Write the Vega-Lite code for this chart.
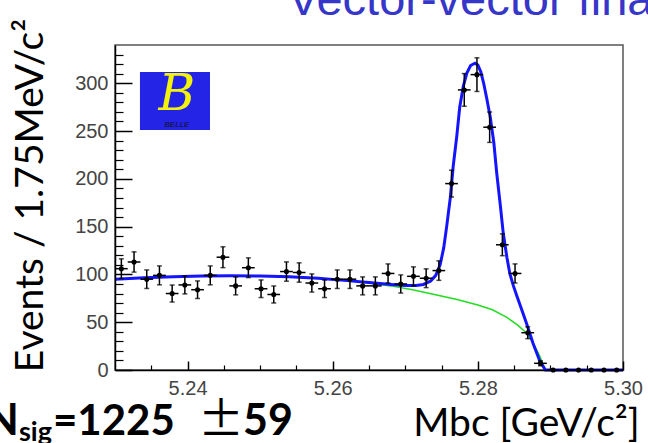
{
  "$schema": "https://vega.github.io/schema/vega-lite/v6.json",
  "autosize": "none",
  "width": 508,
  "height": 325,
  "padding": {"left": 115, "top": 45, "right": 25, "bottom": 73},
  "background": "white",
  "config": {
    "view": {"stroke": "#555555", "strokeWidth": 1.5},
    "font": "Liberation Sans"
  },
  "resolve": {"axis": {"x": "independent", "y": "independent"}},
  "datasets": {
    "bins": [
      {"m": 5.230875, "lo": 5.23, "hi": 5.23175, "n": 106, "e": 10.3},
      {"m": 5.232625, "lo": 5.23175, "hi": 5.2335, "n": 113, "e": 10.6},
      {"m": 5.234375, "lo": 5.2335, "hi": 5.23525, "n": 95, "e": 9.7},
      {"m": 5.236125, "lo": 5.23525, "hi": 5.237, "n": 99, "e": 9.9},
      {"m": 5.237875, "lo": 5.237, "hi": 5.23875, "n": 80, "e": 8.9},
      {"m": 5.239625, "lo": 5.23875, "hi": 5.2405, "n": 89, "e": 9.4},
      {"m": 5.241375, "lo": 5.2405, "hi": 5.24225, "n": 84, "e": 9.2},
      {"m": 5.243125, "lo": 5.24225, "hi": 5.244, "n": 99, "e": 9.9},
      {"m": 5.244875, "lo": 5.244, "hi": 5.24575, "n": 118, "e": 10.9},
      {"m": 5.246625, "lo": 5.24575, "hi": 5.2475, "n": 88, "e": 9.4},
      {"m": 5.248375, "lo": 5.2475, "hi": 5.24925, "n": 107, "e": 10.3},
      {"m": 5.250125, "lo": 5.24925, "hi": 5.251, "n": 85, "e": 9.2},
      {"m": 5.251875, "lo": 5.251, "hi": 5.25275, "n": 79, "e": 8.9},
      {"m": 5.253625, "lo": 5.25275, "hi": 5.2545, "n": 103, "e": 10.1},
      {"m": 5.255375, "lo": 5.2545, "hi": 5.25625, "n": 102, "e": 10.1},
      {"m": 5.257125, "lo": 5.25625, "hi": 5.258, "n": 91, "e": 9.5},
      {"m": 5.258875, "lo": 5.258, "hi": 5.25975, "n": 85, "e": 9.2},
      {"m": 5.260625, "lo": 5.25975, "hi": 5.2615, "n": 95, "e": 9.7},
      {"m": 5.262375, "lo": 5.2615, "hi": 5.26325, "n": 95, "e": 9.7},
      {"m": 5.264125, "lo": 5.26325, "hi": 5.265, "n": 88, "e": 9.4},
      {"m": 5.265875, "lo": 5.265, "hi": 5.26675, "n": 88, "e": 9.4},
      {"m": 5.267625, "lo": 5.26675, "hi": 5.2685, "n": 101, "e": 10.0},
      {"m": 5.269375, "lo": 5.2685, "hi": 5.27025, "n": 90, "e": 9.5},
      {"m": 5.271125, "lo": 5.27025, "hi": 5.272, "n": 98, "e": 9.9},
      {"m": 5.272875, "lo": 5.272, "hi": 5.27375, "n": 96, "e": 9.8},
      {"m": 5.274625, "lo": 5.27375, "hi": 5.2755, "n": 104, "e": 10.2},
      {"m": 5.276375, "lo": 5.2755, "hi": 5.27725, "n": 195, "e": 14.0},
      {"m": 5.278125, "lo": 5.27725, "hi": 5.279, "n": 293, "e": 17.1},
      {"m": 5.279875, "lo": 5.279, "hi": 5.28075, "n": 309, "e": 17.6},
      {"m": 5.281625, "lo": 5.28075, "hi": 5.2825, "n": 254, "e": 15.9},
      {"m": 5.283375, "lo": 5.2825, "hi": 5.28425, "n": 131, "e": 11.4},
      {"m": 5.285125, "lo": 5.28425, "hi": 5.286, "n": 101, "e": 10.0},
      {"m": 5.286875, "lo": 5.286, "hi": 5.28775, "n": 39, "e": 6.2},
      {"m": 5.288625, "lo": 5.28775, "hi": 5.2895, "n": 7, "e": 2.6},
      {"m": 5.290375, "lo": 5.2895, "hi": 5.29125, "n": 0, "e": 0},
      {"m": 5.292125, "lo": 5.29125, "hi": 5.293, "n": 0, "e": 0},
      {"m": 5.293875, "lo": 5.293, "hi": 5.29475, "n": 0, "e": 0},
      {"m": 5.295625, "lo": 5.29475, "hi": 5.2965, "n": 0, "e": 0},
      {"m": 5.297375, "lo": 5.2965, "hi": 5.29825, "n": 0, "e": 0},
      {"m": 5.299125, "lo": 5.29825, "hi": 5.3, "n": 0, "e": 0}
    ],
    "bkg": [
      {"m": 5.230, "n": 95}, {"m": 5.234, "n": 96.5}, {"m": 5.238, "n": 97.5}, {"m": 5.242, "n": 98.3},
      {"m": 5.246, "n": 98.6}, {"m": 5.250, "n": 98.3}, {"m": 5.254, "n": 97.5}, {"m": 5.258, "n": 96},
      {"m": 5.262, "n": 93.5}, {"m": 5.265, "n": 91}, {"m": 5.268, "n": 88}, {"m": 5.271, "n": 84},
      {"m": 5.274, "n": 79}, {"m": 5.277, "n": 74}, {"m": 5.280, "n": 68}, {"m": 5.282, "n": 63},
      {"m": 5.284, "n": 55}, {"m": 5.2855, "n": 47}, {"m": 5.2865, "n": 40}, {"m": 5.2875, "n": 30},
      {"m": 5.2885, "n": 15}, {"m": 5.2893, "n": 0}
    ],
    "total": [
      {"m": 5.230, "n": 95}, {"m": 5.234, "n": 96.5}, {"m": 5.238, "n": 97.5}, {"m": 5.242, "n": 98.3},
      {"m": 5.246, "n": 98.6}, {"m": 5.250, "n": 98.3}, {"m": 5.254, "n": 97.5}, {"m": 5.258, "n": 96},
      {"m": 5.262, "n": 93.5}, {"m": 5.265, "n": 91.5}, {"m": 5.268, "n": 89.5}, {"m": 5.270, "n": 88.5},
      {"m": 5.2715, "n": 88.5}, {"m": 5.2725, "n": 89.5}, {"m": 5.2735, "n": 93}, {"m": 5.2742, "n": 99},
      {"m": 5.2748, "n": 110}, {"m": 5.2753, "n": 128}, {"m": 5.2757, "n": 150}, {"m": 5.2762, "n": 180},
      {"m": 5.2766, "n": 213}, {"m": 5.2771, "n": 245}, {"m": 5.2775, "n": 275}, {"m": 5.2780, "n": 297},
      {"m": 5.2785, "n": 311}, {"m": 5.2790, "n": 318.5}, {"m": 5.2796, "n": 321}, {"m": 5.2800, "n": 319},
      {"m": 5.2804, "n": 312}, {"m": 5.2808, "n": 300}, {"m": 5.2812, "n": 285}, {"m": 5.2817, "n": 265},
      {"m": 5.2822, "n": 238}, {"m": 5.2826, "n": 206}, {"m": 5.2831, "n": 172}, {"m": 5.2835, "n": 143},
      {"m": 5.2840, "n": 118}, {"m": 5.2844, "n": 101}, {"m": 5.2849, "n": 88}, {"m": 5.2854, "n": 77},
      {"m": 5.2860, "n": 64}, {"m": 5.2867, "n": 49}, {"m": 5.2876, "n": 28}, {"m": 5.2885, "n": 10},
      {"m": 5.2893, "n": 0}, {"m": 5.3000, "n": 0}
    ]
  },
  "layer": [
    {
      "data": {"name": "bkg"},
      "mark": {"type": "line", "color": "#22dd22", "strokeWidth": 1.5},
      "encoding": {
        "x": {
          "field": "m", "type": "quantitative",
          "scale": {"domain": [5.23, 5.3], "nice": false, "zero": false},
          "axis": {
            "orient": "bottom",
            "zindex": 2,
            "offset": -9,
            "values": [5.24, 5.26, 5.28, 5.3],
            "format": ".2f",
            "labelOverlap": false,
            "labelFlush": false,
            "labelFont": "Liberation Sans",
            "labelFontSize": 20,
            "labelColor": "#444444",
            "labelPadding": 8,
            "ticks": true,
            "tickSize": 9,
            "tickColor": "black",
            "tickWidth": 1.5,
            "grid": false,
            "domain": false,
            "title": null
          }
        },
        "y": {
          "field": "n", "type": "quantitative",
          "scale": {"domain": [0, 340], "nice": false},
          "axis": {
            "orient": "left",
            "zindex": 2,
            "offset": -17,
            "values": [0, 50, 100, 150, 200, 250, 300],
            "labelOverlap": false,
            "labelFont": "Liberation Sans",
            "labelFontSize": 20,
            "labelColor": "#444444",
            "labelPadding": 7,
            "ticks": true,
            "tickSize": 17,
            "tickColor": "black",
            "tickWidth": 1.5,
            "grid": false,
            "domain": false,
            "title": null
          }
        }
      }
    },
    {
      "data": {"name": "total"},
      "mark": {"type": "line", "color": "#1414ff", "strokeWidth": 3},
      "encoding": {
        "x": {
          "field": "m", "type": "quantitative",
          "axis": {"orient": "bottom", "zindex": 2, "offset": -5, "values": [5.235, 5.245, 5.25, 5.255, 5.265, 5.27, 5.275, 5.285, 5.29, 5.295], "labels": false, "domain": false, "ticks": true, "tickSize": 5, "tickColor": "black", "tickWidth": 1.2, "grid": false, "title": null}
        },
        "y": {
          "field": "n", "type": "quantitative",
          "axis": {"orient": "left", "zindex": 2, "offset": -8, "values": [10, 20, 30, 40, 60, 70, 80, 90, 110, 120, 130, 140, 160, 170, 180, 190, 210, 220, 230, 240, 260, 270, 280, 290, 310, 320, 330], "labels": false, "domain": false, "ticks": true, "tickSize": 8, "tickColor": "black", "tickWidth": 1.2, "grid": false, "title": null}
        }
      }
    },
    {
      "data": {"name": "bins"},
      "mark": {"type": "rule", "color": "black", "strokeWidth": 1.5},
      "encoding": {
        "x": {
          "field": "lo", "type": "quantitative",
          "axis": {
            "orient": "bottom", "zindex": 2, "labels": false, "ticks": false, "grid": false,
            "domain": true, "domainColor": "black", "domainWidth": 1.5,
            "title": "Mbc [GeV/c²]",
            "titleFont": "Lato", "titleFontSize": 39, "titleFontWeight": "normal", "titleColor": "black",
            "titleX": 411, "titleY": 65, "titleAlign": "center", "titleBaseline": "alphabetic"
          }
        },
        "x2": {"field": "hi"},
        "y": {
          "field": "n", "type": "quantitative",
          "axis": {
            "orient": "left", "zindex": 2, "labels": false, "ticks": false, "grid": false,
            "domain": true, "domainColor": "black", "domainWidth": 1.5,
            "title": "Events / 1.75MeV/c²",
            "titleFont": "Lato", "titleFontSize": 39, "titleFontWeight": "normal", "titleColor": "black",
            "titleAngle": 270, "titleX": -73, "titleY": 150, "titleAlign": "center", "titleBaseline": "alphabetic"
          }
        }
      }
    },
    {
      "data": {"name": "bins"},
      "mark": {"type": "errorbar", "ticks": true, "color": "black", "thickness": 1.5},
      "encoding": {
        "x": {"field": "m", "type": "quantitative", "axis": null},
        "y": {"field": "n", "type": "quantitative", "axis": null},
        "yError": {"field": "e"}
      }
    },
    {
      "data": {"name": "bins"},
      "mark": {"type": "point", "shape": "circle", "filled": true, "color": "black", "size": 26, "opacity": 1},
      "encoding": {
        "x": {"field": "m", "type": "quantitative", "axis": null},
        "y": {"field": "n", "type": "quantitative", "axis": null}
      }
    },
    {
      "data": {"values": [{}]},
      "mark": {"type": "rect", "color": "#2424e6"},
      "encoding": {
        "x": {"datum": 5.23344, "type": "quantitative", "axis": null},
        "x2": {"datum": 5.24309},
        "y": {"datum": 251.1, "type": "quantitative", "axis": null},
        "y2": {"datum": 311.8}
      }
    },
    {
      "data": {"values": [{}]},
      "mark": {"type": "text", "text": "B", "font": "DejaVu Serif", "fontStyle": "italic", "fontSize": 50, "color": "#f2f20a", "align": "center", "baseline": "alphabetic"},
      "encoding": {
        "x": {"datum": 5.23854, "type": "quantitative", "axis": null},
        "y": {"datum": 272.5, "type": "quantitative", "axis": null}
      }
    },
    {
      "data": {"values": [{}]},
      "mark": {"type": "text", "text": "BELLE", "font": "Liberation Sans", "fontStyle": "italic", "fontSize": 8, "color": "#111111", "align": "center", "baseline": "middle"},
      "encoding": {
        "x": {"datum": 5.23854, "type": "quantitative", "axis": null},
        "y": {"datum": 256.5, "type": "quantitative", "axis": null}
      }
    },
    {
      "data": {"values": [{}]},
      "mark": {"type": "text", "text": "Vector-vector final state", "font": "Liberation Sans", "fontSize": 47, "color": "#3636c8", "align": "left", "baseline": "alphabetic"},
      "encoding": {
        "x": {"datum": 5.2538, "type": "quantitative", "axis": null},
        "y": {"datum": 371.4, "type": "quantitative", "axis": null}
      }
    },
    {
      "data": {"values": [{}]},
      "mark": {"type": "text", "text": "N", "font": "Lato", "fontWeight": "bold", "fontSize": 44, "color": "black", "align": "right", "baseline": "alphabetic"},
      "encoding": {
        "x": {"datum": 5.216772, "type": "quantitative", "axis": null},
        "y": {"datum": -68, "type": "quantitative", "axis": null}
      }
    },
    {
      "data": {"values": [{}]},
      "mark": {"type": "text", "text": "sig", "font": "Lato", "fontWeight": "bold", "fontSize": 27, "color": "black", "align": "left", "baseline": "alphabetic"},
      "encoding": {
        "x": {"datum": 5.216772, "type": "quantitative", "axis": null},
        "y": {"datum": -74.3, "type": "quantitative", "axis": null}
      }
    },
    {
      "data": {"values": [{}]},
      "mark": {"type": "text", "text": "=1225", "font": "Lato", "fontWeight": "bold", "fontSize": 42, "color": "black", "align": "left", "baseline": "alphabetic"},
      "encoding": {
        "x": {"datum": 5.221457, "type": "quantitative", "axis": null},
        "y": {"datum": -68, "type": "quantitative", "axis": null}
      }
    },
    {
      "data": {"values": [{}]},
      "mark": {"type": "text", "text": "±", "font": "Noto Sans CJK SC", "fontWeight": "normal", "fontSize": 46, "color": "black", "align": "center", "baseline": "alphabetic"},
      "encoding": {
        "x": {"datum": 5.244605, "type": "quantitative", "axis": null},
        "y": {"datum": -68, "type": "quantitative", "axis": null}
      }
    },
    {
      "data": {"values": [{}]},
      "mark": {"type": "text", "text": "59", "font": "Lato", "fontWeight": "bold", "fontSize": 43, "color": "black", "align": "left", "baseline": "alphabetic"},
      "encoding": {
        "x": {"datum": 5.247638, "type": "quantitative", "axis": null},
        "y": {"datum": -68, "type": "quantitative", "axis": null}
      }
    }
  ]
}
